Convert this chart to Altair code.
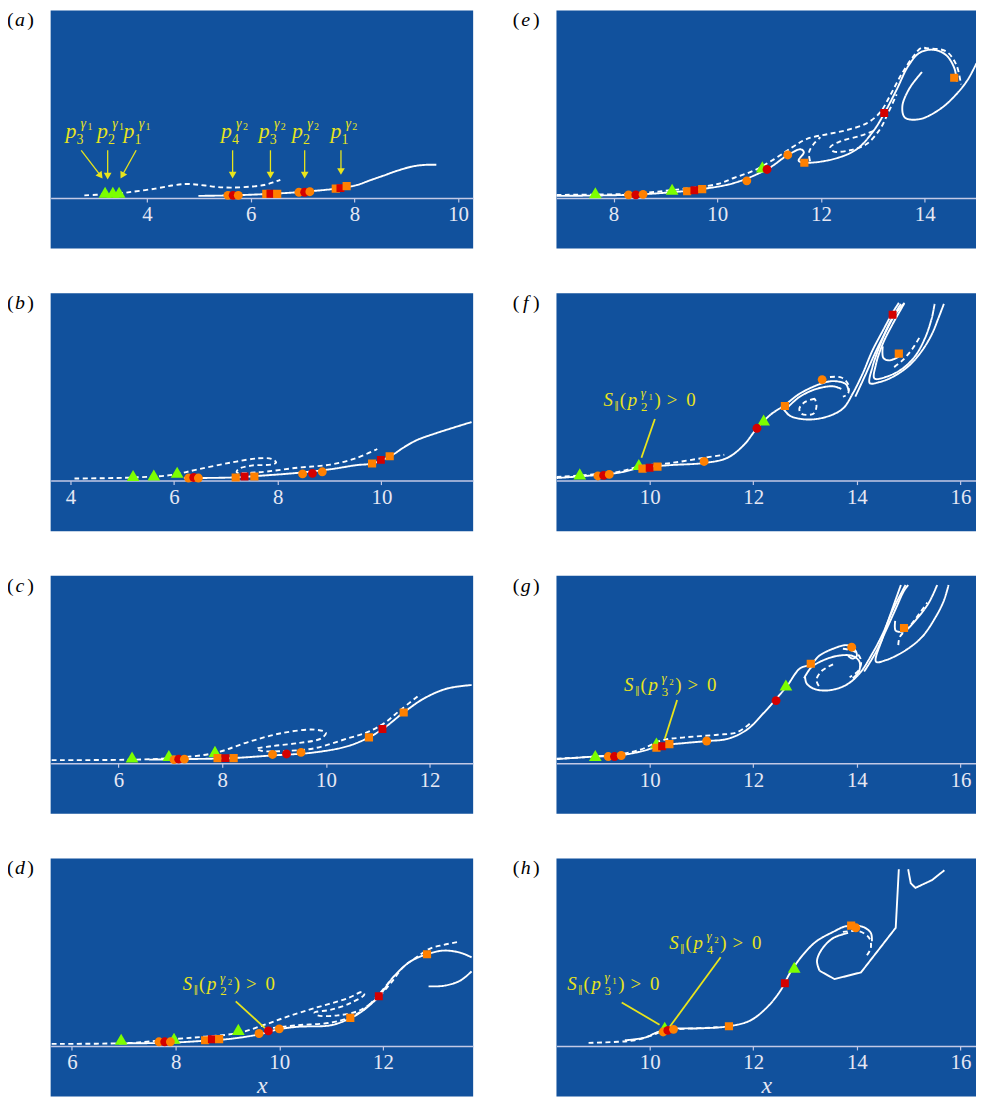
import math
import altair as alt
import pandas as pd

# ------------------------------------------------------------------ data
# visible x window and tick values of every panel (y is shared)
a_xrange = [2.14, 10.29]; a_ticks = [4, 6, 8, 10]
b_xrange = [3.62, 11.77]; b_ticks = [4, 6, 8, 10]
c_xrange = [4.69, 12.84]; c_ticks = [6, 8, 10, 12]
d_xrange = [5.59, 13.74]; d_ticks = [6, 8, 10, 12]
e_xrange = [6.90, 14.99]; e_ticks = [8, 10, 12, 14]
f_xrange = [8.20, 16.30]; f_ticks = [10, 12, 14, 16]
g_xrange = [8.20, 16.30]; g_ticks = [10, 12, 14, 16]
h_xrange = [8.20, 16.30]; h_ticks = [10, 12, 14, 16]
y_range = [-0.976, 3.617]

# ---- panel (a)
a_solid1 = [(4.99, 0.04), (5.63, 0.05), (6.39, 0.08), (7.03, 0.12), (7.73, 0.19), (8.05, 0.25), (8.30, 0.34),
            (8.56, 0.43), (8.81, 0.52), (9.13, 0.61), (9.39, 0.64), (9.58, 0.64)]
a_dash1 = [(2.79, 0.05), (3.20, 0.07), (3.50, 0.09), (3.72, 0.12), (4.16, 0.18), (4.48, 0.24), (4.73, 0.27),
           (4.93, 0.26), (5.12, 0.24), (5.37, 0.21), (5.63, 0.20), (6.01, 0.22), (6.26, 0.25), (6.46, 0.31), (6.57, 0.35)]
a_markers = [('tri', 3.19, 0.11), ('tri', 3.34, 0.11), ('tri', 3.46, 0.11),
             ('oc', 5.56, 0.05), ('rc', 5.66, 0.05), ('oc', 5.76, 0.05),
             ('os', 6.30, 0.08), ('rs', 6.38, 0.08), ('os', 6.51, 0.08),
             ('oc', 6.93, 0.11), ('rc', 7.04, 0.11), ('oc', 7.14, 0.12),
             ('os', 7.64, 0.18), ('rs', 7.73, 0.19), ('os', 7.85, 0.23)]
# p-labels: (centre x, baseline y, subscript, gamma index)
a_plabels = [(2.69, 1.15, '3', '1'), (3.30, 1.15, '2', '1'), (3.81, 1.15, '1', '1'),
             (5.69, 1.15, '4', '2'), (6.42, 1.15, '3', '2'), (7.06, 1.15, '2', '2'), (7.80, 1.15, '1', '2')]
a_arrows = [(2.73, 0.92, 3.14, 0.38), (3.24, 0.92, 3.24, 0.36), (3.79, 0.92, 3.49, 0.38),
            (5.65, 0.92, 5.65, 0.38), (6.38, 0.92, 6.38, 0.38), (7.04, 0.92, 7.04, 0.38), (7.74, 0.92, 7.74, 0.45)]

# ---- panel (b)
b_solid1 = [(6.19, 0.05), (7.11, 0.06), (7.75, 0.10), (8.39, 0.15), (9.02, 0.22), (9.53, 0.30), (9.82, 0.33),
            (10.17, 0.47), (10.43, 0.64), (10.68, 0.78), (11.07, 0.92), (11.74, 1.13)]
b_dash1 = [(4.08, 0.04), (5.20, 0.06), (5.96, 0.11), (6.47, 0.22), (7.11, 0.35), (7.62, 0.43), (7.88, 0.42),
           (7.97, 0.35), (7.88, 0.31), (7.49, 0.29), (7.24, 0.22), (7.21, 0.16), (7.62, 0.16), (8.39, 0.25),
           (9.02, 0.31), (9.53, 0.44), (9.92, 0.61)]
b_markers = [('tri', 5.21, 0.10), ('tri', 5.61, 0.11), ('tri', 6.06, 0.16),
             ('oc', 6.28, 0.05), ('rc', 6.38, 0.06), ('oc', 6.47, 0.05),
             ('os', 7.19, 0.06), ('rs', 7.36, 0.08), ('os', 7.55, 0.08),
             ('oc', 8.48, 0.13), ('rc', 8.67, 0.14), ('oc', 8.86, 0.17),
             ('os', 9.82, 0.33), ('rs', 9.99, 0.40), ('os', 10.16, 0.47)]

# ---- panel (c)
c_solid1 = [(6.59, 0.07), (7.29, 0.08), (8.18, 0.10), (8.95, 0.15), (9.78, 0.21), (10.42, 0.33), (10.83, 0.50),
            (11.12, 0.68), (11.50, 0.98), (11.89, 1.25), (12.33, 1.44), (12.81, 1.51)]
c_dash1 = [(4.71, 0.06), (6.27, 0.07), (7.03, 0.10), (7.86, 0.20), (8.50, 0.41), (9.14, 0.58), (9.78, 0.65),
           (10.00, 0.59), (9.91, 0.48), (9.46, 0.39), (8.95, 0.33), (8.66, 0.28), (8.76, 0.24), (9.27, 0.24),
           (9.78, 0.29), (10.42, 0.48), (10.80, 0.60), (11.12, 0.77), (11.44, 1.03), (11.82, 1.33)]
c_markers = [('tri', 6.26, 0.12), ('tri', 6.97, 0.15), ('tri', 7.86, 0.23),
             ('oc', 7.07, 0.07), ('rc', 7.16, 0.08), ('oc', 7.27, 0.08),
             ('os', 7.91, 0.10), ('rs', 8.06, 0.10), ('os', 8.22, 0.10),
             ('oc', 8.97, 0.17), ('rc', 9.24, 0.18), ('oc', 9.52, 0.21),
             ('os', 10.83, 0.50), ('rs', 11.09, 0.66), ('os', 11.50, 0.98)]

# ---- panel (d)
d_solid1 = [(6.91, 0.05), (7.81, 0.06), (8.57, 0.10), (9.08, 0.14), (9.59, 0.22), (9.98, 0.32), (10.36, 0.37),
            (11.00, 0.40), (11.38, 0.54), (11.64, 0.70), (11.92, 0.96), (12.21, 1.34), (12.53, 1.63),
            (12.85, 1.77), (13.17, 1.84), (13.49, 1.80), (13.71, 1.71)]
d_solid2 = [(12.88, 1.15), (13.17, 1.16), (13.49, 1.26), (13.71, 1.44)]
d_dash1 = [(5.61, 0.04), (7.17, 0.06), (7.93, 0.13), (8.57, 0.18), (9.21, 0.25), (9.72, 0.41), (10.17, 0.57),
           (10.68, 0.73), (11.32, 0.92), (11.60, 1.04), (11.64, 0.99), (11.38, 0.83), (11.00, 0.70),
           (10.68, 0.64), (10.74, 0.59), (11.13, 0.59), (11.51, 0.67), (11.70, 0.77), (11.89, 0.92),
           (12.15, 1.21), (12.40, 1.53), (12.66, 1.72), (12.91, 1.88), (13.17, 1.95), (13.46, 2.01)]
d_dash2 = [(9.72, 0.33), (10.36, 0.40), (11.00, 0.45), (11.38, 0.56), (11.64, 0.71), (11.89, 0.96), (12.15, 1.27)]
d_markers = [('tri', 6.95, 0.13), ('tri', 7.97, 0.15), ('tri', 9.21, 0.32),
             ('oc', 7.68, 0.08), ('rc', 7.79, 0.08), ('oc', 7.90, 0.08),
             ('os', 8.57, 0.11), ('rs', 8.70, 0.13), ('os', 8.84, 0.13),
             ('oc', 9.61, 0.24), ('rc', 9.79, 0.29), ('oc', 10.00, 0.33),
             ('os', 11.37, 0.54), ('rs', 11.92, 0.96), ('os', 12.85, 1.77)]
# S-labels: (centre x, baseline y, subscript, gamma index)
d_slabels = [(9.05, 1.07, '2', '2')]
d_leaders = [(9.16, 0.86, 9.72, 0.35)]

# ---- panel (e)
e_solid1 = [(6.90, 0.04), (8.29, 0.06), (9.12, 0.11), (9.69, 0.17), (10.33, 0.29), (10.97, 0.56), (11.35, 0.82),
            (11.61, 0.94), (11.67, 0.88), (11.57, 0.72), (11.70, 0.68), (12.24, 0.75), (12.69, 0.94),
            (13.01, 1.29), (13.22, 1.63), (13.46, 2.09), (13.68, 2.54), (13.90, 2.80), (14.16, 2.86),
            (14.41, 2.76), (14.57, 2.51), (14.62, 2.25)]
e_solid2 = [(13.95, 2.43), (13.71, 2.12), (13.57, 1.77), (13.62, 1.55), (13.90, 1.52), (14.29, 1.71),
            (14.61, 2.00), (14.83, 2.28), (15.00, 2.60)]
e_dash1 = [(6.90, 0.06), (8.29, 0.08), (9.12, 0.15), (10.01, 0.27), (10.33, 0.39), (10.71, 0.53), (11.10, 0.75),
           (11.45, 0.98), (11.73, 1.14), (12.12, 1.23), (12.50, 1.31), (12.88, 1.44), (13.14, 1.65),
           (13.33, 1.97), (13.55, 2.38), (13.78, 2.73), (13.94, 2.90), (14.03, 2.89), (14.41, 2.83),
           (14.61, 2.57), (14.70, 2.19)]
e_dash2 = [(13.01, 1.29), (12.76, 1.20), (12.37, 1.09), (12.18, 0.98), (12.24, 0.90), (12.56, 0.92),
           (12.88, 1.04), (13.14, 1.33), (13.30, 1.65), (13.46, 2.00)]
e_dash3 = [(11.79, 0.71), (11.77, 0.88), (11.86, 1.04), (11.99, 1.17)]
e_markers = [('tri', 7.65, 0.10), ('tri', 9.13, 0.17), ('tri', 10.87, 0.60),
             ('oc', 8.29, 0.06), ('rc', 8.43, 0.06), ('oc', 8.57, 0.07),
             ('os', 9.42, 0.13), ('rs', 9.56, 0.15), ('os', 9.71, 0.17),
             ('oc', 10.57, 0.33), ('rc', 10.96, 0.55), ('oc', 11.36, 0.83), ('os', 11.68, 0.68),
             ('rs', 13.22, 1.64), ('os', 14.57, 2.32)]

# ---- panel (f)
f_solid1 = [(8.20, 0.05), (8.76, 0.09), (9.39, 0.15), (9.84, 0.25), (10.41, 0.30), (11.05, 0.34), (11.50, 0.44),
            (11.82, 0.69), (12.07, 1.01), (12.33, 1.27), (12.61, 1.46), (12.90, 1.68), (13.28, 1.86),
            (13.54, 1.92), (13.79, 1.86), (13.84, 1.73)]
f_solid2 = [(12.58, 1.39), (12.71, 1.25), (13.03, 1.18), (13.41, 1.23), (13.73, 1.39), (13.92, 1.68),
            (14.11, 2.06), (14.30, 2.51), (14.50, 2.89), (14.69, 3.24), (14.81, 3.43)]
f_solid3 = [(13.97, 1.62), (14.16, 2.03), (14.36, 2.48), (14.55, 2.86), (14.74, 3.21), (14.92, 3.43)]
f_solid4 = [(12.68, 1.43), (12.90, 1.62), (13.22, 1.77), (13.54, 1.82), (13.70, 1.77)]
f_solid5 = [(14.85, 3.41), (14.62, 3.02), (14.43, 2.57), (14.30, 2.19), (14.25, 1.88), (14.43, 1.90),
            (14.69, 2.00), (15.01, 2.22), (15.26, 2.51), (15.45, 2.83), (15.58, 3.15), (15.68, 3.41)]
f_solid6 = [(14.91, 3.41), (14.69, 3.02), (14.50, 2.64), (14.37, 2.25), (14.34, 1.97), (14.56, 2.00),
            (14.88, 2.16), (15.13, 2.41), (15.32, 2.76), (15.45, 3.15), (15.50, 3.41)]
f_solid7 = [(14.50, 2.59), (14.51, 2.37), (14.62, 2.32), (14.81, 2.39)]
f_dash1 = [(8.20, 0.07), (9.39, 0.17), (9.84, 0.28), (10.41, 0.34), (11.05, 0.44), (11.44, 0.50)]
f_dash2 = [(13.48, 2.00), (13.70, 1.99), (13.83, 1.86), (13.83, 1.68), (13.73, 1.62)]
f_dash3 = [(13.19, 1.58), (13.00, 1.52), (12.89, 1.39), (12.93, 1.29), (13.16, 1.29), (13.22, 1.43), (13.19, 1.58)]
f_dash4 = [(14.72, 2.19), (14.88, 2.32), (15.07, 2.54), (15.23, 2.80)]
f_markers = [('tri', 8.65, 0.13), ('tri', 9.79, 0.31), ('tri', 12.20, 1.17),
             ('oc', 9.00, 0.09), ('rc', 9.11, 0.10), ('oc', 9.22, 0.12),
             ('os', 9.86, 0.23), ('rs', 10.00, 0.25), ('os', 10.15, 0.27),
             ('oc', 11.05, 0.37), ('rc', 12.07, 1.01), ('os', 12.61, 1.44), ('oc', 13.33, 1.95),
             ('rs', 14.69, 3.20), ('os', 14.81, 2.45)]
f_slabels = [(10.02, 1.44, '2', '1')]
f_leaders = [(10.10, 1.19, 9.84, 0.44)]

# ---- panel (g)
g_solid1 = [(8.20, 0.08), (8.95, 0.13), (9.39, 0.15), (9.84, 0.23), (10.22, 0.34), (10.67, 0.39), (11.12, 0.43),
            (11.50, 0.47), (11.88, 0.65), (12.20, 0.97), (12.44, 1.24), (12.65, 1.49), (12.90, 1.83),
            (13.11, 1.91), (13.28, 2.08), (13.54, 2.21), (13.79, 2.28), (13.93, 2.23), (14.00, 2.08),
            (13.92, 2.02), (13.83, 2.07)]
g_solid2 = [(13.00, 1.67), (13.03, 1.54), (13.19, 1.43), (13.48, 1.41), (13.79, 1.51), (14.05, 1.73),
            (14.30, 2.12), (14.50, 2.50), (14.69, 2.95), (14.88, 3.33), (14.94, 3.44)]
g_solid3 = [(14.14, 1.77), (14.37, 2.15), (14.56, 2.56), (14.75, 2.98), (14.91, 3.33), (14.99, 3.44)]
g_solid4 = [(12.98, 1.64), (13.12, 1.85), (13.38, 2.00), (13.67, 2.08), (13.92, 2.07), (14.05, 1.96),
            (14.04, 1.77), (13.92, 1.64)]
g_solid5 = [(14.85, 3.44), (14.65, 2.88), (14.50, 2.43), (14.37, 1.96), (14.56, 1.99), (14.94, 2.18),
            (15.26, 2.44), (15.52, 2.82), (15.68, 3.14), (15.77, 3.44)]
g_solid6 = [(14.74, 2.75), (14.75, 2.56), (14.91, 2.55), (15.16, 2.79), (15.39, 3.10), (15.55, 3.44)]
g_dash1 = [(8.20, 0.09), (9.39, 0.17), (9.84, 0.27), (10.22, 0.44), (10.67, 0.50), (11.31, 0.55), (11.69, 0.60),
           (11.95, 0.78)]
g_dash2 = [(13.73, 2.21), (13.97, 2.15), (14.08, 1.99), (14.04, 1.80), (13.86, 1.66)]
g_dash3 = [(13.54, 1.91), (13.32, 1.78), (13.22, 1.61), (13.27, 1.48)]
g_dash4 = [(14.80, 2.28), (14.83, 2.44), (15.01, 2.63), (15.20, 2.88), (15.36, 3.10)]
g_markers = [('tri', 8.95, 0.15), ('tri', 10.13, 0.39), ('tri', 12.63, 1.51),
             ('oc', 9.20, 0.13), ('rc', 9.32, 0.13), ('oc', 9.45, 0.15),
             ('os', 10.13, 0.30), ('rs', 10.24, 0.33), ('os', 10.38, 0.37),
             ('oc', 11.10, 0.43), ('rc', 12.44, 1.21), ('os', 13.11, 1.92), ('oc', 13.90, 2.24),
             ('os', 14.91, 2.61)]
g_slabels = [(10.42, 1.40, '3', '2')]
g_leaders = [(10.53, 1.22, 10.29, 0.47)]

# ---- panel (h)
h_solid1 = [(9.52, 0.11), (9.90, 0.16), (10.16, 0.27), (10.41, 0.33), (10.99, 0.34), (11.53, 0.38), (11.94, 0.49),
            (12.26, 0.74), (12.52, 1.06), (12.71, 1.41), (12.96, 1.76), (13.22, 2.02), (13.54, 2.20),
            (13.79, 2.31), (14.11, 2.30), (14.27, 2.18), (14.29, 2.02)]
h_solid2 = [(13.83, 2.18), (13.54, 2.08), (13.32, 1.86), (13.23, 1.64), (13.28, 1.45)]
h_solid3 = [(13.28, 1.45), (13.57, 1.29), (14.08, 1.42), (14.75, 2.28), (14.81, 3.41)]
h_solid4 = [(14.99, 3.41), (15.04, 3.14), (15.13, 3.05), (15.45, 3.20), (15.69, 3.39)]
h_dash1 = [(8.82, 0.06), (9.39, 0.08), (9.71, 0.11), (10.03, 0.20), (10.29, 0.30), (10.67, 0.33), (11.31, 0.36)]
h_dash2 = [(13.73, 2.20), (14.05, 2.21), (14.24, 2.08), (14.27, 1.89), (14.18, 1.73)]
h_markers = [('tri', 10.29, 0.36), ('tri', 12.79, 1.52),
             ('oc', 10.26, 0.27), ('rc', 10.35, 0.30), ('oc', 10.46, 0.32),
             ('os', 11.53, 0.38), ('rs', 12.61, 1.21), ('os', 13.89, 2.32), ('oc', 13.98, 2.28)]
h_slabels = [(11.29, 1.87, '4', '2'), (9.32, 1.08, '3', '1')]
h_leaders = [(11.37, 1.71, 10.38, 0.36), (9.46, 0.84, 10.19, 0.41)]

# ------------------------------------------------------------------ style
PX = 52.25          # pixels per data unit (both axes)
H = 240
W_LEFT, W_RIGHT = 426, 423
SERIF = 'Liberation Serif'
BLUE = '#11519d'
AXIS_C = '#c3c9e6'
LABEL_C = '#e6e8f4'
YELLOW = '#e8e41c'
MARK_STYLE = {'tri': ('triangle-up', '#7cff00', 165), 'oc': ('circle', '#ff8000', 80),
              'rc': ('circle', '#d40000', 80), 'os': ('square', '#ff8000', 68), 'rs': ('square', '#d40000', 64)}

P_PARTS = [(-8.3, 0, 'p', 22, True), (0.8, 5.7, '{s}', 14, False), (4.2, -10, 'γ', 14, True),
           (10.8, -8.3, '{g}', 10, False)]
S_PARTS = [(4.5, 0, 'S', 19, True), (13, 5, '‖', 15, False), (19.5, 0, '(', 19, False), (29, 0, 'p', 19, True),
           (41, 5, '{s}', 13, False), (40, -9, 'γ', 13, True), (47.5, -6, '{g}', 9, False),
           (54.5, 0, ')', 19, False), (69, 0, '>', 19, False), (88, 0, '0', 19, False)]
S_HALF = 47.5

AXIS_OFFSET = -H * (0 - y_range[0]) / (y_range[1] - y_range[0])


def label_rows(labels, parts, shift):
    rows = []
    for xc, yb, s, g in labels:
        for dx, dy, t, fs, it in parts:
            rows.append(dict(x=xc + (dx - shift) / PX, y=yb - dy / PX,
                             t=t.replace('{s}', s).replace('{g}', g), fs=fs, it=it))
    return rows


def make_panel(letter, xrange_, ticks, width, curves, markers, plabels=(), slabels=(),
               arrows=(), leaders=(), xtitle=False):
    axis_kw = dict(values=ticks, offset=AXIS_OFFSET, grid=False, domainColor=AXIS_C, domainWidth=1.5,
                   tickColor=AXIS_C, tickSize=4, tickWidth=1.2, labelColor=LABEL_C, labelFont=SERIF,
                   labelFontSize=21, labelPadding=2, labelFlush=False, title='')
    if xtitle:
        axis_kw.update(title='x', titleFont=SERIF, titleFontStyle='italic', titleFontWeight='normal',
                       titleFontSize=24, titleColor=LABEL_C, titleY=47, titleBaseline='alphabetic')
    xenc = alt.X('x:Q', scale=alt.Scale(domain=xrange_, nice=False, zero=False), axis=alt.Axis(**axis_kw))
    yenc = alt.Y('y:Q', scale=alt.Scale(domain=y_range, nice=False, zero=False), axis=None)
    layers = []

    rows = []
    for seg, c in enumerate(curves):
        style, pts = c[0], c[1]
        interp = c[2] if len(c) > 2 else 'catmull-rom'
        for i, (x, y) in enumerate(pts):
            rows.append(dict(x=x, y=y, seg=seg, i=i, dash=style, interp=interp))
    cdf = pd.DataFrame(rows)
    for interp in ['catmull-rom', 'linear']:
        sub = cdf[cdf.interp == interp]
        if len(sub):
            layers.append(alt.Chart(sub).mark_line(color='white', strokeWidth=1.9, interpolate=interp, clip=True)
                          .encode(x=xenc, y=yenc, detail='seg:N', order='i:Q',
                                  strokeDash=alt.StrokeDash('dash:N', scale=alt.Scale(domain=['s', 'd'],
                                                            range=[[1, 0], [5, 3.5]]), legend=None)))

    if leaders:
        ldf = pd.DataFrame([dict(x=a, y=b, x2=c, y2=d) for a, b, c, d in leaders])
        layers.append(alt.Chart(ldf).mark_rule(color=YELLOW, strokeWidth=1.8)
                      .encode(x=xenc, y=yenc, x2='x2:Q', y2='y2:Q'))
    if arrows:
        rows, heads = [], []
        for x1, y1, x2, y2 in arrows:
            dxp, dyp = (x2 - x1) * PX, -(y2 - y1) * PX
            L = math.hypot(dxp, dyp)
            ux, uy = dxp / L, dyp / L
            cx, cy = x2 - ux * 3.2 / PX, y2 + uy * 3.2 / PX
            rows.append(dict(x=x1, y=y1, x2=cx, y2=cy))
            heads.append(dict(x=cx, y=cy, ang=(-math.degrees(math.atan2(dxp, dyp))) % 360))
        layers.append(alt.Chart(pd.DataFrame(rows)).mark_rule(color=YELLOW, strokeWidth=1.3)
                      .encode(x=xenc, y=yenc, x2='x2:Q', y2='y2:Q'))
        layers.append(alt.Chart(pd.DataFrame(heads)).mark_point(shape='triangle-down', filled=True, opacity=1,
                                                                 color=YELLOW, size=60)
                      .encode(x=xenc, y=yenc, angle=alt.Angle('ang:Q', scale=None)))

    mdf = pd.DataFrame([dict(x=x, y=y, shape=MARK_STYLE[k][0], col=MARK_STYLE[k][1], sz=MARK_STYLE[k][2])
                        for k, x, y in markers])
    layers.append(alt.Chart(mdf).mark_point(filled=True, opacity=1, strokeWidth=0, clip=True)
                  .encode(x=xenc, y=yenc, shape=alt.Shape('shape:N', scale=None),
                          color=alt.Color('col:N', scale=None), size=alt.Size('sz:Q', scale=None)))

    trows = label_rows(plabels, P_PARTS, 0) + label_rows(slabels, S_PARTS, S_HALF)
    if trows:
        tdf = pd.DataFrame(trows)
        for it in [True, False]:
            sub = tdf[tdf.it == it]
            layers.append(alt.Chart(sub).mark_text(font=SERIF, fontStyle='italic' if it else 'normal',
                                                   color=YELLOW, align='center', baseline='alphabetic')
                          .encode(x=xenc, y=yenc, text='t:N', size=alt.Size('fs:Q', scale=None)))

    ldf = pd.DataFrame({'t': [letter]})
    base = alt.Chart(ldf)
    layers.append(base.mark_text(font=SERIF, fontSize=20, color='black', align='left', baseline='alphabetic',
                                 text='(').encode(x=alt.value(-44), y=alt.value(16)))
    layers.append(base.mark_text(font=SERIF, fontSize=20, fontStyle='italic', color='black', align='center',
                                 baseline='alphabetic').encode(x=alt.value(-31), y=alt.value(16), text='t:N'))
    layers.append(base.mark_text(font=SERIF, fontSize=20, color='black', align='right', baseline='alphabetic',
                                 text=')').encode(x=alt.value(-17), y=alt.value(16)))
    return alt.layer(*layers).properties(width=width, height=H)


pa = make_panel('a', a_xrange, a_ticks, W_LEFT, [('s', a_solid1), ('d', a_dash1)], a_markers,
                plabels=a_plabels, arrows=a_arrows)
pb = make_panel('b', b_xrange, b_ticks, W_LEFT, [('s', b_solid1), ('d', b_dash1)], b_markers)
pc = make_panel('c', c_xrange, c_ticks, W_LEFT, [('s', c_solid1), ('d', c_dash1)], c_markers)
pd_ = make_panel('d', d_xrange, d_ticks, W_LEFT,
                 [('s', d_solid1), ('s', d_solid2), ('d', d_dash1), ('d', d_dash2)], d_markers,
                 slabels=d_slabels, leaders=d_leaders, xtitle=True)
pe = make_panel('e', e_xrange, e_ticks, W_RIGHT,
                [('s', e_solid1), ('s', e_solid2), ('d', e_dash1), ('d', e_dash2), ('d', e_dash3)], e_markers)
pf = make_panel('f', f_xrange, f_ticks, W_RIGHT,
                [('s', f_solid1), ('s', f_solid2), ('s', f_solid3), ('s', f_solid4), ('s', f_solid5),
                 ('s', f_solid6), ('s', f_solid7), ('d', f_dash1), ('d', f_dash2), ('d', f_dash3), ('d', f_dash4)],
                f_markers, slabels=f_slabels, leaders=f_leaders)
pg = make_panel('g', g_xrange, g_ticks, W_RIGHT,
                [('s', g_solid1), ('s', g_solid2), ('s', g_solid3), ('s', g_solid4), ('s', g_solid5),
                 ('s', g_solid6), ('d', g_dash1), ('d', g_dash2), ('d', g_dash3), ('d', g_dash4)],
                g_markers, slabels=g_slabels, leaders=g_leaders)
ph = make_panel('h', h_xrange, h_ticks, W_RIGHT,
                [('s', h_solid1), ('s', h_solid2), ('s', h_solid3, 'linear'), ('s', h_solid4, 'linear'),
                 ('d', h_dash1), ('d', h_dash2)],
                h_markers, slabels=h_slabels, leaders=h_leaders, xtitle=True)

chart = (alt.concat(pa, pe, pb, pf, pc, pg, pd_, ph, columns=2, spacing={'row': 45, 'column': 84},
                    bounds='flush')
         .resolve_scale(x='independent', y='independent')
         .properties(padding={'left': -1, 'top': -2, 'right': 0, 'bottom': 0}, background='white')
         .configure_view(fill=BLUE, strokeWidth=0))

chart.save('out.html', embed_options={'renderer': 'svg', 'actions': False})
